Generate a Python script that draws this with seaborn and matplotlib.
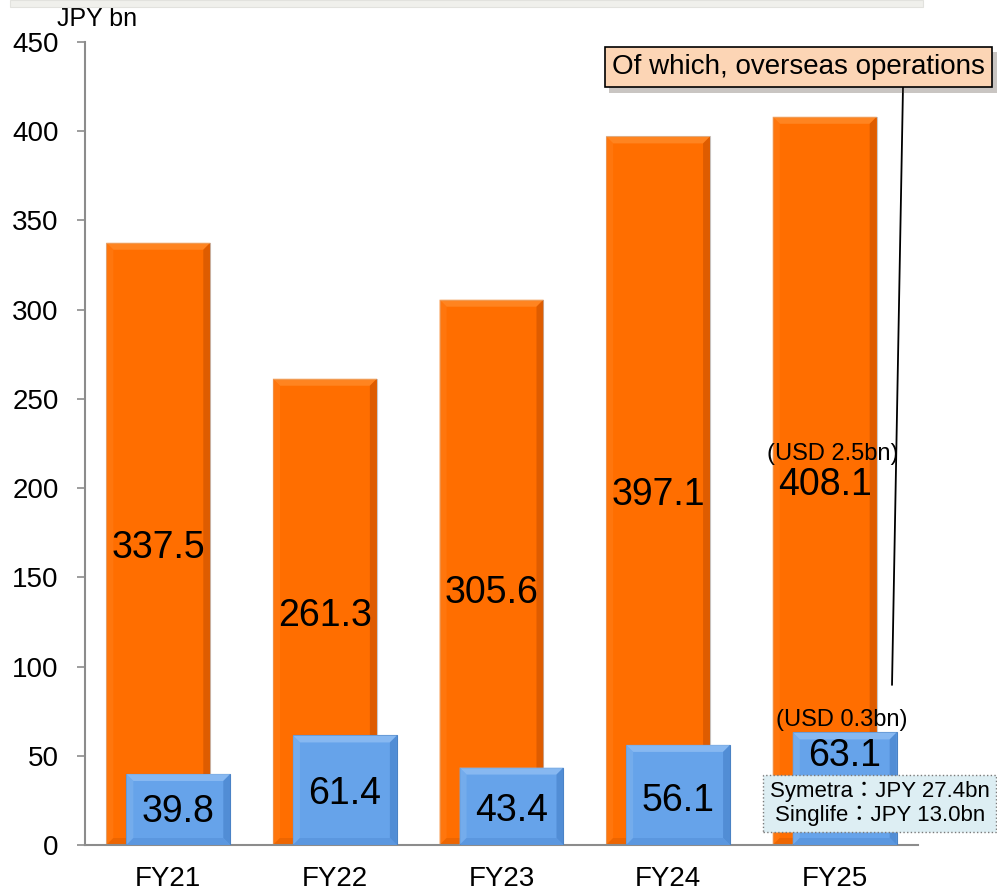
import matplotlib
matplotlib.use("Agg")
import matplotlib.pyplot as plt
import seaborn as sns
import pandas as pd
from matplotlib.patches import Polygon, Rectangle
from matplotlib import patheffects as pe

# ---- data ----
years = ["FY21", "FY22", "FY23", "FY24", "FY25"]
total_profit = [337.5, 261.3, 305.6, 397.1, 408.1]
overseas_profit = [39.8, 61.4, 43.4, 56.1, 63.1]
usd_notes = ["(USD 2.5bn)", "(USD 0.3bn)"]
breakdown_lines = ["Symetra：JPY 27.4bn", "Singlife：JPY 13.0bn"]
y_ticks = [0, 50, 100, 150, 200, 250, 300, 350, 400, 450]
unit_label = "JPY bn"
callout_text = "Of which, overseas operations"

# ---- style ----
ORANGE = "#FF6E00"
ORANGE_LIGHT = "#FF8C2C"
ORANGE_DARK = "#D45600"
BLUE = "#66A3EA"
BLUE_LIGHT = "#93C0F4"
BLUE_DARK = "#4B86CF"
AXIS_GREY = "#8c8c8c"

sns.set_theme(style="white")
plt.rcParams["font.family"] = ["Liberation Sans", "Noto Sans CJK JP", "DejaVu Sans"]
plt.rcParams["text.color"] = "black"

fig = plt.figure(figsize=(9.97, 8.93), dpi=100)
ax = fig.add_axes([85 / 997, 48 / 893, 833 / 997, 803 / 893])

df = pd.DataFrame({"year": years, "total": total_profit, "overseas": overseas_profit})

bar_w = 0.624
shift = 0.06

sns.barplot(data=df, x="year", y="total", color=ORANGE, width=bar_w, saturation=1,
            edgecolor="#c8c8c8", linewidth=0.8, ax=ax, zorder=2)
n_orange = len(ax.patches)
sns.barplot(data=df, x="year", y="overseas", color=BLUE, width=bar_w, saturation=1,
            edgecolor="#4a82c4", linewidth=0.8, ax=ax, zorder=4)
orange_bars = list(ax.patches[:n_orange])
blue_bars = list(ax.patches[n_orange:])
for p in orange_bars:
    p.set_x(p.get_x() - shift)
    p.set_zorder(2)
for p in blue_bars:
    p.set_x(p.get_x() + shift)
    p.set_zorder(4)

ax.set_xlim(-0.5, 4.5)
ax.set_ylim(0, 450)
ax.set_yticks(y_ticks)
ax.set_xlabel("")
ax.set_ylabel("")
sns.despine(ax=ax)
for side in ("left", "bottom"):
    ax.spines[side].set_color(AXIS_GREY)
    ax.spines[side].set_linewidth(1.5)
ax.tick_params(axis="y", left=True, length=6, width=1.2, color=AXIS_GREY, pad=13,
               labelsize=20, labelcolor="black")
ax.tick_params(axis="x", bottom=False, length=0, pad=15, labelsize=20, labelcolor="black")


def add_bevel(p, light, mid, dark, bottom, z, d=7):
    """Bevelled look: light top/left faces, darker right/bottom faces."""
    x0, w, h = p.get_x(), p.get_width(), p.get_height()
    X0, Y0 = ax.transData.transform((x0, 0))
    X1, Y1 = ax.transData.transform((x0 + w, h))
    inv = ax.transData.inverted()
    faces = [
        ([(X0, Y1), (X1, Y1), (X1 - d, Y1 - d), (X0 + d, Y1 - d)], light),
        ([(X0, Y0), (X0, Y1), (X0 + d, Y1 - d), (X0 + d, Y0 + d)], mid),
        ([(X1, Y0), (X1, Y1), (X1 - d, Y1 - d), (X1 - d, Y0 + d)], dark),
        ([(X0, Y0), (X1, Y0), (X1 - d, Y0 + d), (X0 + d, Y0 + d)], bottom),
    ]
    for pts, c in faces:
        ax.add_patch(Polygon(inv.transform(pts), closed=True, fc=c, ec="none",
                             zorder=z, alpha=0.75))


for p in orange_bars:
    add_bevel(p, ORANGE_LIGHT, "#FF7A12", ORANGE_DARK, "#E86300", 2.5)
for p in blue_bars:
    add_bevel(p, BLUE_LIGHT, "#7AB0EE", BLUE_DARK, "#5893DC", 4.5)

# value labels
orange_frac = [0.5, 0.5, 0.47, 0.5, 0.5]
blue_frac = [0.52, 0.5, 0.49, 0.48, 0.83]
for i, p in enumerate(orange_bars):
    ax.text(p.get_x() + p.get_width() / 2, total_profit[i] * orange_frac[i],
            f"{total_profit[i]:.1f}", ha="center", va="center_baseline",
            fontsize=27, color="black", zorder=6)
for i, p in enumerate(blue_bars):
    ax.text(p.get_x() + p.get_width() / 2, overseas_profit[i] * blue_frac[i],
            f"{overseas_profit[i]:.1f}", ha="center", va="center_baseline",
            fontsize=27, color="black", zorder=6)

# USD notes for the latest year
ax.text(3.99, 220.3, usd_notes[0], ha="center", va="center_baseline", fontsize=17, zorder=6)
ax.text(4.04, 71.5, usd_notes[1], ha="center", va="center_baseline", fontsize=17, zorder=6)

# breakdown box
ax.text(4.27, 23.3, "\n".join(breakdown_lines), ha="center", va="center",
        multialignment="center", fontsize=16, linespacing=1.15, zorder=7, clip_on=False,
        bbox=dict(boxstyle="square,pad=0.3", fc="#DDEEF3", ec="#7a7a7a", lw=1.0, ls=":"))

# callout box with leader line
ax.annotate("", xy=(4.344, 89.7), xytext=(4.41, 425), xycoords="data",
            arrowprops=dict(arrowstyle="-", color="black", lw=1.3, shrinkA=0, shrinkB=0),
            annotation_clip=False, zorder=6)
callout = ax.text(2.665, 437.8, callout_text, ha="left", va="center_baseline",
                  fontsize=20, zorder=8, clip_on=False,
                  bbox=dict(boxstyle="square,pad=0.26", fc="#FCD5B5", ec="black", lw=1.2))
callout.get_bbox_patch().set_path_effects(
    [pe.SimplePatchShadow(offset=(3, -4), alpha=0.3), pe.Normal()])

# unit label
ax.text(-0.034, 1.032, unit_label, transform=ax.transAxes, ha="left",
        va="center_baseline", fontsize=18, clip_on=False)

# thin grey band along the top edge
fig.patches.append(Rectangle((10 / 997, 886 / 893), 913 / 997, 7 / 893,
                             transform=fig.transFigure, fc="#f0f0ec", ec="#e2e2de",
                             lw=0.8, zorder=0))

fig.savefig("out.png", dpi=100)
